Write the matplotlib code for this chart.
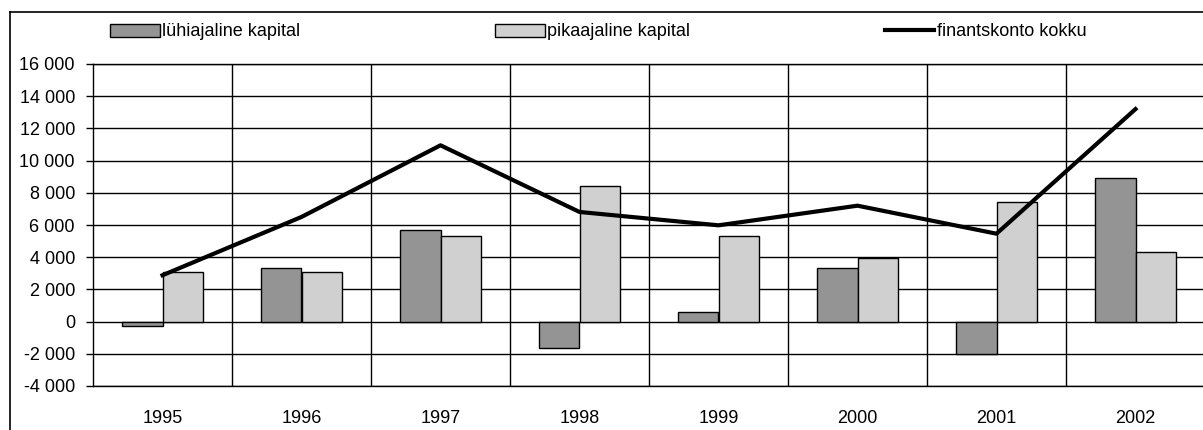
import matplotlib.pyplot as plt
import numpy as np
from matplotlib.patches import Patch
from matplotlib.lines import Line2D

plt.rcParams['font.family'] = ['Liberation Sans', 'DejaVu Sans']

years = ["1995", "1996", "1997", "1998", "1999", "2000", "2001", "2002"]
luhiajaline = [-250, 3330, 5700, -1630, 600, 3330, -1990, 8900]
pikaajaline = [3090, 3090, 5320, 8400, 5300, 3950, 7400, 4300]
finantskonto = [2880, 6500, 10950, 6810, 5980, 7200, 5460, 13200]

dark = "#949494"
light = "#d0d0d0"

fig = plt.figure(figsize=(12.03, 4.30), dpi=100)
W, H = 1203, 430

# outer chart frame (only top/left edges fall inside the picture)
fig.add_artist(Line2D([10 / W, 10 / W], [0, 1 - 12 / H], color="black", lw=1.2))
fig.add_artist(Line2D([10 / W, 1], [1 - 12 / H, 1 - 12 / H], color="black", lw=1.2))

ax = fig.add_axes([93 / W, 44 / H, 1112 / W, 322 / H])
x = np.arange(len(years))
w = 0.288

ax.bar(x - w / 2, luhiajaline, w, color=dark, edgecolor="black", linewidth=1, zorder=3)
ax.bar(x + w / 2, pikaajaline, w, color=light, edgecolor="black", linewidth=1, zorder=3)
ax.plot(x, finantskonto, color="black", linewidth=3, zorder=4)

ax.set_xlim(-0.5, len(years) - 0.5)
ax.set_ylim(-4000, 16000)
ax.set_yticks(range(-4000, 16001, 2000))
ax.set_yticklabels([f"{v:,}".replace(",", " ") for v in range(-4000, 16001, 2000)])
ax.set_xticks(x)
ax.set_xticklabels(years)
ax.tick_params(axis="x", length=0, pad=17, labelsize=13)
ax.tick_params(axis="y", length=5, width=1, pad=8, labelsize=13)

# grid: horizontal at every tick, vertical at category boundaries
for yv in range(-4000, 16001, 2000):
    ax.axhline(yv, color="black", lw=1, zorder=1)
for xv in np.arange(0.5, len(years), 1):
    ax.axvline(xv, color="black", lw=1, zorder=1)
for s in ax.spines.values():
    s.set_linewidth(1)
ax.spines["right"].set_visible(False)

handles = [
    Patch(facecolor=dark, edgecolor="black", linewidth=1),
    Patch(facecolor=light, edgecolor="black", linewidth=1),
    Line2D([], [], color="black", lw=3),
]
labels = ["lühiajaline kapital", "pikaajaline kapital", "finantskonto kokku"]
fig.legend(handles, labels, ncol=3, loc="center left",
           bbox_to_anchor=(110 / W, 1 - 32 / H), frameon=False, fontsize=13,
           handlelength=2.75, handleheight=0.7, handletextpad=0.12,
           columnspacing=10.8, borderaxespad=0, borderpad=0)

fig.savefig("out.png", dpi=100)
